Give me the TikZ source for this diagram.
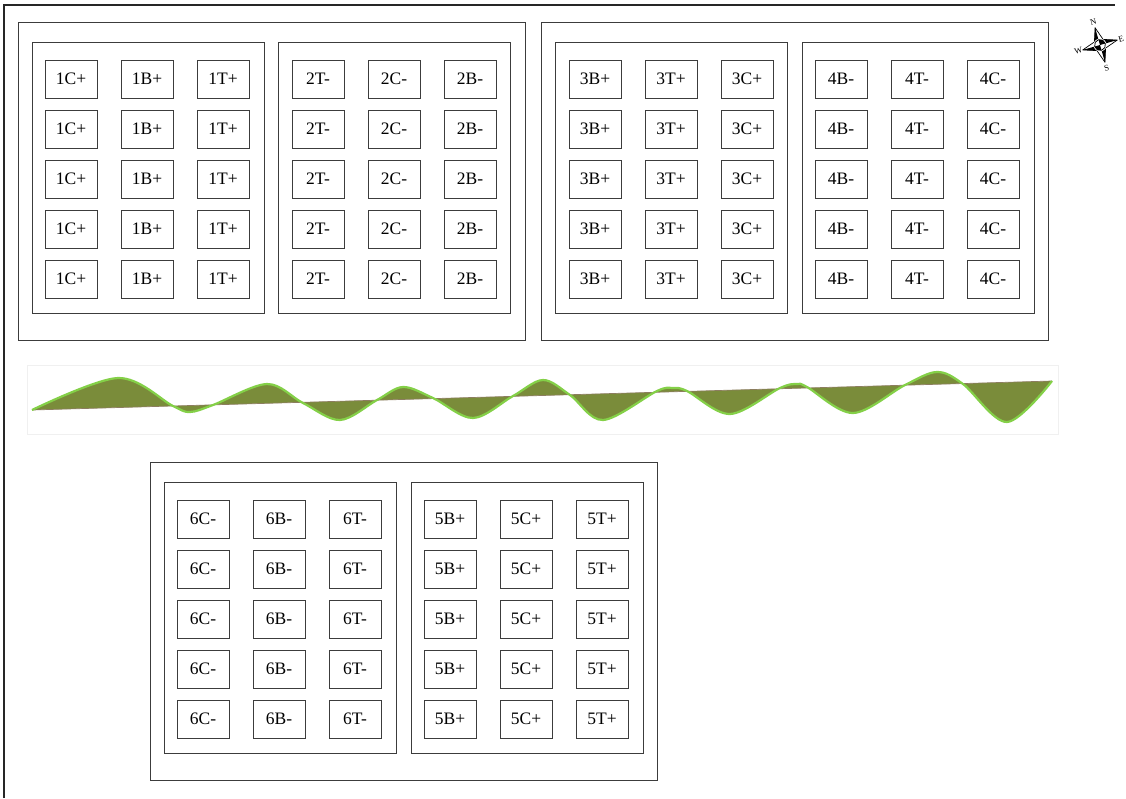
\documentclass[tikz,border=0pt]{standalone}
\usepackage{fontspec}
\setmainfont{Liberation Serif}
\definecolor{wavefill}{RGB}{122,140,58}
\definecolor{waveedge}{RGB}{132,208,72}
\definecolor{waveaxis}{RGB}{140,125,95}
\definecolor{boxline}{RGB}{60,60,60}
% one panel: three columns of five labelled cells
\newcommand{\panelcells}[4]{%
  \foreach \lab [count=\i] in {#4} {
    \foreach \r in {0,...,4} {
      \node[cell] (c#1-\r-\i) at ({#2+76*(\i-2)}, {#3+50*\r}) {\lab};
    }
  }
}
\begin{document}
\begin{tikzpicture}[x=1pt,y=-1pt,
  cell/.style={draw=boxline, line width=1pt, minimum width=52pt, minimum height=38pt,
    inner sep=0pt, font=\fontsize{17.5}{17.5}\selectfont},
  panel/.style={draw=boxline, line width=1pt, minimum width=232pt, minimum height=271pt, inner sep=0pt},
  block/.style={draw=boxline, line width=1pt, minimum width=507pt, minimum height=318pt, inner sep=0pt},
  compasslabel/.style={font=\fontsize{8.5}{8.5}\selectfont, inner sep=0pt},
]
\useasboundingbox (0,0) rectangle (1126,798);

% page frame
\draw[black!85, line width=1.2pt] (4,798) -- (4,5) -- (1115,5);

% upper blocks
\node[block] (blockA) at (271.5,181) {};
\node[panel] (panel1) at (148,177.5) {};
\node[panel] (panel2) at (394.5,177.5) {};
\node[block] (blockB) at (794.5,181) {};
\node[panel] (panel3) at (671,177.5) {};
\node[panel] (panel4) at (918,177.5) {};
% lower block
\node[block] (blockC) at (403.5,621) {};
\node[panel] (panel6) at (280,618) {};
\node[panel] (panel5) at (527,618) {};

\panelcells{1}{147}{79}{1C+,1B+,1T+}
\panelcells{2}{394}{79}{2T-,2C-,2B-}
\panelcells{3}{671}{79}{3B+,3T+,3C+}
\panelcells{4}{917}{79}{4B-,4T-,4C-}
\panelcells{6}{279}{519}{6C-,6B-,6T-}
\panelcells{5}{526}{519}{5B+,5C+,5T+}

% wave band
\draw[black!6, line width=0.8pt] (27,365) rectangle (1058,434);
\coordinate (ws) at (32,410);
\coordinate (we) at (1052,381);
\def\wavepts{(32,410) (118,378) (173,406) (190,412) (213,405) (267,384) (303,403)
  (340,420) (377,400) (403,387) (433,398) (473,418) (513,396) (543,380) (570,395)
  (603,420) (657,391) (673,388) (687,391) (730,414) (780,388) (797,384) (807,387)
  (853,413) (905,385) (937,372) (963,384) (1007,422) (1052,381)}
\fill[wavefill] plot[smooth, tension=0.55] coordinates {\wavepts} -- (ws) -- cycle;
\draw[waveaxis, line width=0.7pt] (ws) -- (we);
\draw[waveedge, line width=2.2pt, line join=round] plot[smooth, tension=0.55] coordinates {\wavepts};

% compass rose
\begin{scope}[shift={(1100,45)}]
\begin{scope}[x=1pt, y=1pt, rotate=16]
  \fill[white] (0,18) -- (4.5,4.5) -- (18,0) -- (4.5,-4.5) -- (0,-18) -- (-4.5,-4.5) -- (-18,0) -- (-4.5,4.5) -- cycle;
  \fill[black] (0,0) -- (0,18) -- (-4.5,4.5) -- cycle;
  \fill[black] (0,0) -- (18,0) -- (4.5,4.5) -- cycle;
  \fill[black] (0,0) -- (0,-18) -- (4.5,-4.5) -- cycle;
  \fill[black] (0,0) -- (-18,0) -- (-4.5,-4.5) -- cycle;
  \draw[black, line width=0.7pt, line join=round] (0,18) -- (4.5,4.5) -- (18,0) -- (4.5,-4.5) -- (0,-18) -- (-4.5,-4.5) -- (-18,0) -- (-4.5,4.5) -- cycle;
  \fill[white] (0,0) circle (6.5);
  \fill[black] (0,0) -- (5.5,0) arc (0:90:5.5) -- cycle;
  \fill[black] (0,0) -- (-5.5,0) arc (180:270:5.5) -- cycle;
  \draw[black, line width=0.8pt] (0,0) circle (5.5);
  \node[compasslabel, rotate=16] (cN) at (0,24) {N};
  \node[compasslabel, rotate=16] (cE) at (22,0) {E};
  \node[compasslabel, rotate=16] (cS) at (0,-24) {S};
  \node[compasslabel, rotate=16] (cW) at (-22.5,0) {W};
\end{scope}
\end{scope}
\end{tikzpicture}
\end{document}
